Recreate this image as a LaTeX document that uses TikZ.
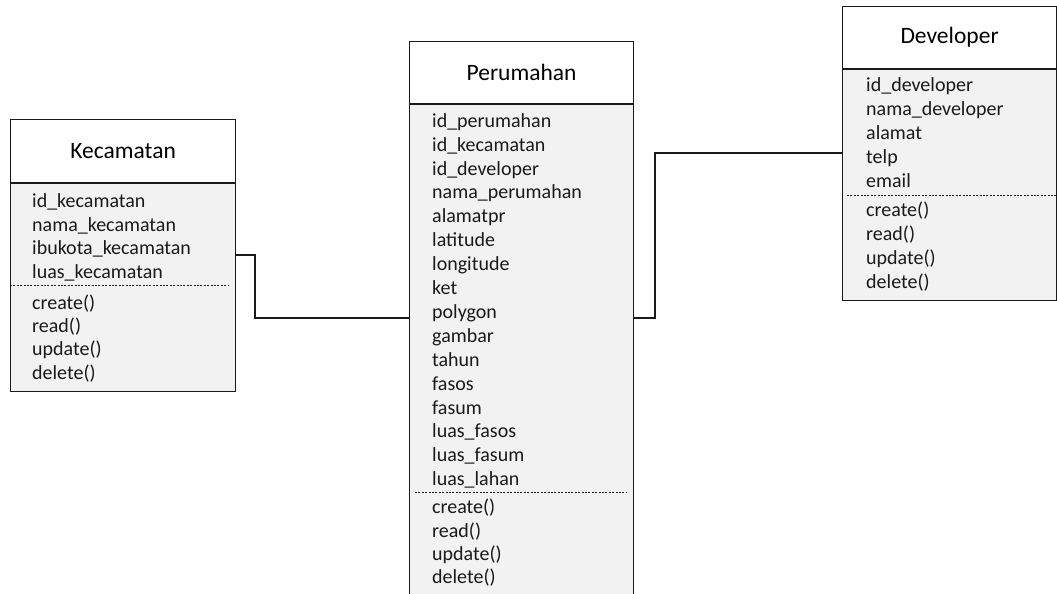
\documentclass[tikz,border=0pt]{standalone}
\usepackage{fontspec}
\setmainfont{Carlito}
\usetikzlibrary{positioning}
\definecolor{classfill}{HTML}{F2F2F2}
\definecolor{classink}{HTML}{1A1A1A}

\tikzset{
  classhead/.style={draw=classink,fill=white,line width=1.2pt,inner sep=0pt,
    anchor=north west,font=\fontsize{23.5}{27}\selectfont},
  classbody/.style={draw=classink,fill=classfill,line width=1.2pt,inner sep=0pt},
  attr/.style={anchor=base west,inner sep=0pt,text=classink},
  sepline/.style={classink,line width=.8pt,dash pattern=on 2pt off 1.4pt},
  link/.style={classink,line width=1.2pt}
}

\begin{document}
\begin{tikzpicture}[x=1pt,y=-1pt,font=\fontsize{20}{23}\selectfont]
        \useasboundingbox (0,0) rectangle (1057,594);

        % Kecamatan
        \node[classhead,minimum width=225pt,minimum height=63pt] (kechead) at (10,119) {Kecamatan};
        \node[classbody,minimum width=225pt,minimum height=208pt,below=0pt of kechead] (kecbody) {};
        \node[attr] (kecid) at (32,207) {id\_kecamatan};
        \node[attr] (kecnama) at (32,231) {nama\_kecamatan};
        \node[attr] (kecibu) at (32,254) {ibukota\_kecamatan};
        \node[attr] (kecluas) at (32,278) {luas\_kecamatan};
        \draw[sepline] (kecbody.west |- 0,285) -- (228,285);
        \node[attr] (keccreate) at (32,309) {create()};
        \node[attr] (kecread) at (32,332) {read()};
        \node[attr] (kecupdate) at (32,355.5) {update()};
        \node[attr] (kecdelete) at (32,379) {delete()};

        % Perumahan
        \node[classhead,minimum width=224pt,minimum height=62pt] (perhead) at (409,41) {Perumahan};
        \node[classbody,minimum width=224pt,minimum height=495pt,below=0pt of perhead] (perbody) {};
        \node[attr] (perid) at (432,127.2) {id\_perumahan};
        \node[attr] (perkec) at (432,151.1) {id\_kecamatan};
        \node[attr] (perdev) at (432,175) {id\_developer};
        \node[attr] (pernama) at (432,198.9) {nama\_perumahan};
        \node[attr] (peralamat) at (432,222.8) {alamatpr};
        \node[attr] (perlat) at (432,246.7) {latitude};
        \node[attr] (perlong) at (432,270.6) {longitude};
        \node[attr] (perket) at (432,294.5) {ket};
        \node[attr] (perpoly) at (432,318.4) {polygon};
        \node[attr] (pergambar) at (432,342.3) {gambar};
        \node[attr] (pertahun) at (432,366.2) {tahun};
        \node[attr] (perfasos) at (432,390.1) {fasos};
        \node[attr] (perfasum) at (432,414) {fasum};
        \node[attr] (perlfasos) at (432,437.9) {luas\_fasos};
        \node[attr] (perlfasum) at (432,461.8) {luas\_fasum};
        \node[attr] (perlahan) at (432,485.7) {luas\_lahan};
        \draw[sepline] (415,492.7) -- (627,492.7);
        \node[attr] (percreate) at (432,513.8) {create()};
        \node[attr] (perread) at (432,537.2) {read()};
        \node[attr] (perupdate) at (432,560.5) {update()};
        \node[attr] (perdelete) at (432,583.8) {delete()};

        % Developer
        \node[classhead,minimum width=214pt,minimum height=62pt] (devhead) at (842,6) {Developer};
        \node[classbody,minimum width=214pt,minimum height=231pt,below=0pt of devhead] (devbody) {};
        \node[attr] (devid) at (866,91.5) {id\_developer};
        \node[attr] (devnama) at (866,115.4) {nama\_developer};
        \node[attr] (devalamat) at (866,139.3) {alamat};
        \node[attr] (devtelp) at (866,163.2) {telp};
        \node[attr] (devemail) at (866,187.1) {email};
        \draw[sepline] (847,195) -- (devbody.east |- 0,195);
        \node[attr] (devcreate) at (866,216.5) {create()};
        \node[attr] (devread) at (866,240.5) {read()};
        \node[attr] (devupdate) at (866,264.8) {update()};
        \node[attr] (devdelete) at (866,288.2) {delete()};

        % relasi
        \draw[link] (kecbody.east |- 0,255) -| (255,318) -- (perbody.west |- 0,318);
        \draw[link] (perbody.east |- 0,318) -| (655,153) -- (devbody.west |- 0,153);
      \end{tikzpicture}
\end{document}
